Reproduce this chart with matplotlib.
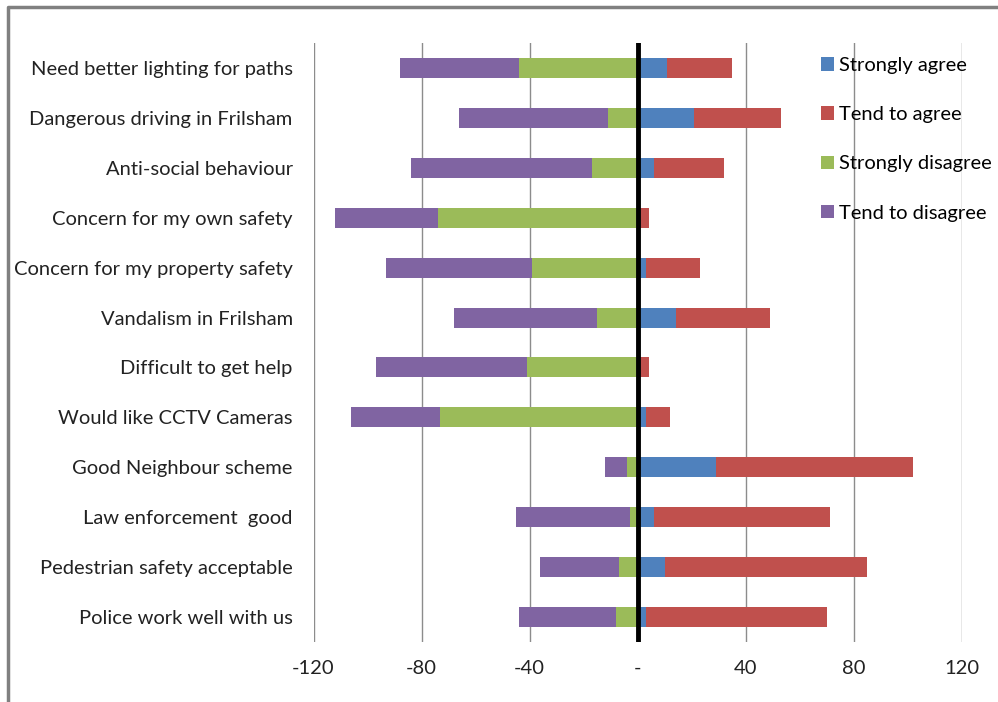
import matplotlib.pyplot as plt
from matplotlib.lines import Line2D
import numpy as np

plt.rcParams['font.family'] = ['Lato', 'DejaVu Sans']

categories = ['Need better lighting for paths', 'Dangerous driving in Frilsham',
              'Anti-social behaviour', 'Concern for my own safety',
              'Concern for my property safety', 'Vandalism in Frilsham',
              'Difficult to get help', 'Would like CCTV Cameras',
              'Good Neighbour scheme', 'Law enforcement  good',
              'Pedestrian safety acceptable', 'Police work well with us']
strongly_agree = [11, 21, 6, 0, 3, 14, 0, 3, 29, 6, 10, 3]
tend_agree = [24, 32, 26, 4, 20, 35, 4, 9, 73, 65, 75, 67]
strongly_disagree = [44, 11, 17, 74, 39, 15, 41, 73, 4, 3, 7, 8]
tend_disagree = [44, 55, 67, 38, 54, 53, 56, 33, 8, 42, 29, 36]
ticks = [-120, -80, -40, 0, 40, 80, 120]
tick_labels = ['-120', '-80', '-40', '-', '40', '80', '120']

c_sa, c_ta, c_sd, c_td = '#4F81BD', '#C0504D', '#9BBB59', '#8064A2'

fig = plt.figure(figsize=(9.98, 7.02), dpi=100)
ax = fig.add_axes([313.5 / 998, 1 - 642 / 702, (962 - 313.5) / 998, 599 / 702])

y = np.arange(len(categories))
sa = np.array(strongly_agree)
ta = np.array(tend_agree)
sd = np.array(strongly_disagree)
td = np.array(tend_disagree)
h = 0.4
ax.barh(y, sa, height=h, color=c_sa, label='Strongly agree', zorder=2)
ax.barh(y, ta, left=sa, height=h, color=c_ta, label='Tend to agree', zorder=2)
ax.barh(y, -sd, height=h, color=c_sd, label='Strongly disagree', zorder=2)
ax.barh(y, -td, left=-sd, height=h, color=c_td, label='Tend to disagree', zorder=2)

ax.set_ylim(len(categories) - 0.5, -0.5)
ax.set_xlim(-120, 120)
ax.set_xticks(ticks)
ax.set_xticklabels(tick_labels, fontsize=14.5, color='#222222')
ax.set_yticks(y)
ax.set_yticklabels(categories, fontsize=14.5, color='#222222')
ax.tick_params(axis='both', length=0)
ax.tick_params(axis='x', pad=13)
ax.tick_params(axis='y', pad=15)
for s in ax.spines.values():
    s.set_visible(False)
for t in ticks:
    if t != 0:
        ax.axvline(t, color='#8c8c8c', lw=1, zorder=1)
ax.axvline(0, color='black', lw=3.5, zorder=3)

ax.legend(loc='upper left', bbox_to_anchor=(821 / 998, 1 - 57 / 702),
          bbox_transform=fig.transFigure, frameon=False, fontsize=14.5,
          handlelength=0.65, handleheight=0.65, handletextpad=0.25,
          labelspacing=1.6, borderpad=0, borderaxespad=0)

# outer chart border (top and left)
fig.add_artist(Line2D([8 / 998, 8 / 998, 1], [0, 1 - 7 / 702, 1 - 7 / 702],
                      transform=fig.transFigure, color='#808080', lw=2.5))

plt.savefig('out.png', dpi=100)
plt.close()
